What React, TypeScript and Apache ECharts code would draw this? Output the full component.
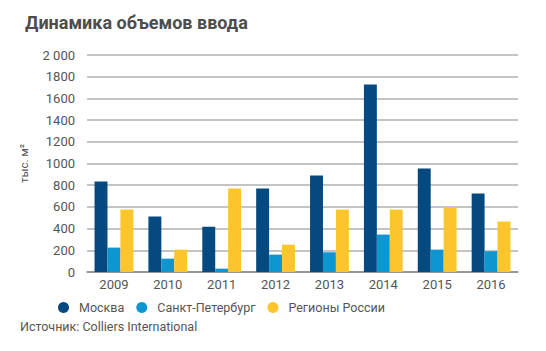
import React, { useEffect, useRef } from "react";
import * as echarts from "echarts";

const categories = ["2009", "2010", "2011", "2012", "2013", "2014", "2015", "2016"];
const moscow = [834, 511, 418, 769, 889, 1729, 954, 723];
const spb = [225, 123, 31, 160, 182, 345, 206, 191];
const regions = [575, 206, 769, 252, 575, 575, 597, 465];
const seriesNames = ["Москва", "Санкт-Петербург", "Регионы России"];
const colors = ["#044a80", "#0e96d0", "#fdc52c"];

const FONT = "Roboto";

export default function App() {
  const ref = useRef<HTMLDivElement>(null);
  useEffect(() => {
    if (!ref.current) return;
    const chart = echarts.init(ref.current, null, { renderer: "svg" });
    const data = [moscow, spb, regions];
    chart.setOption({
      animation: false,
      textStyle: { fontFamily: FONT },
      title: {
        text: "Динамика объемов ввода",
        left: 20,
        top: 8,
        textStyle: { fontFamily: FONT, fontSize: 18, fontWeight: "bold", color: "#4d4d4d" },
      },
      legend: {
        data: seriesNames.map((n, i) => ({ name: n, itemStyle: { color: colors[i] } })),
        left: 53,
        top: 296,
        icon: "circle",
        itemWidth: 11,
        itemHeight: 11,
        itemGap: 12,
        textStyle: { fontFamily: FONT, fontSize: 12.5, color: "#555", padding: [0, 0, 0, 5] },
      },
      graphic: [
        {
          type: "text",
          left: 20,
          top: 320,
          style: {
            text: "Источник: Colliers International",
            fontFamily: FONT,
            fontSize: 12.5,
            fill: "#555",
          },
        },
      ],
      grid: { left: 87, right: 28, top: 55, bottom: 79 },
      xAxis: {
        type: "category",
        data: categories,
        axisTick: { show: false },
        axisLine: { lineStyle: { color: "#888", width: 1.5 } },
        axisLabel: { fontFamily: FONT, fontSize: 13, color: "#555", margin: 6 },
      },
      yAxis: {
        type: "value",
        min: 0,
        max: 2000,
        interval: 200,
        name: "тыс. м²",
        nameLocation: "middle",
        nameGap: 57,
        nameTextStyle: { fontFamily: FONT, fontSize: 11.5, color: "#555" },
        axisLine: { show: false },
        axisTick: { show: false },
        splitLine: { lineStyle: { color: "#b0b0b0", width: 1.5 } },
        axisLabel: {
          fontFamily: FONT,
          fontSize: 13,
          color: "#555",
          margin: 12,
          formatter: (v: number) => (v === 2000 ? "2 000" : String(v)),
        },
      },
      series: data.map((d, i) => ({
        name: seriesNames[i],
        type: "bar",
        data: d,
        barGap: "0%",
        barCategoryGap: "28%",
        itemStyle: { color: colors[i] },
      })),
    });
    return () => chart.dispose();
  }, []);
  return <div ref={ref} style={{ width: 546, height: 351, position: "absolute", left: 0, top: 0 }} />;
}
